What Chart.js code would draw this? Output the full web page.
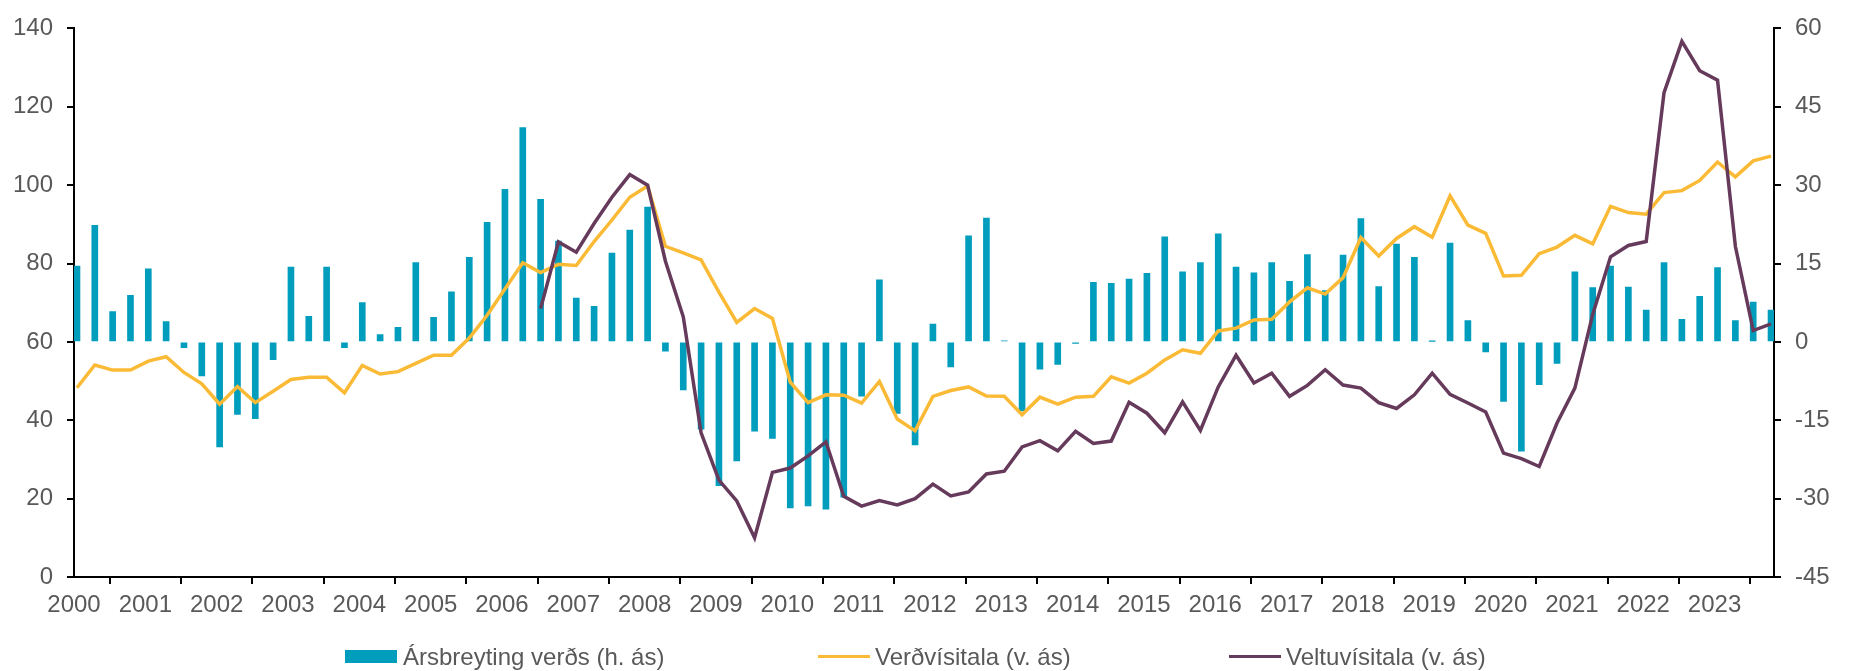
<!DOCTYPE html>
<html>
<head>
<meta charset="utf-8">
<script src="https://cdn.jsdelivr.net/npm/chart.js@4.4.1/dist/chart.umd.min.js"></script>
<style>
  html, body { margin: 0; padding: 0; background: #fff; }
  #wrap { position: relative; width: 1855px; height: 671px; }
  #legend { position: absolute; left: 0; top: 643px; width: 1855px; height: 27px;
            font-family: "Liberation Sans", Arial, sans-serif; font-size: 24px; color: #595959; }
  .item { position: absolute; top: 0; height: 27px; display: flex; align-items: center; white-space: nowrap; }
  .swatch { display: inline-block; width: 52px; margin-right: 6px; }
</style>
</head>
<body>
<div id="wrap">
  <canvas id="chart" width="1855" height="671"></canvas>
  <div id="legend"></div>
</div>
<script>
// quarterly data 2000Q1 - 2023Q4
const years = ['2000', '2001', '2002', '2003', '2004', '2005', '2006', '2007', '2008', '2009', '2010', '2011',
               '2012', '2013', '2014', '2015', '2016', '2017', '2018', '2019', '2020', '2021', '2022', '2023'];

// Ársbreyting verðs (%, right axis)
const arsbreyting = [
  14.5, 22.3, 5.8, 8.9,      14.0, 3.9, -1.1, -6.5,     -20.1, -13.9, -14.7, -3.4,  14.3, 4.9, 14.3, -1.1,
  7.5, 1.4, 2.8, 15.2,       4.7, 9.6, 16.2, 22.9,      29.2, 41.0, 27.3, 19.3,     8.4, 6.8, 17.0, 21.4,
  25.8, -1.8, -9.2, -16.7,   -27.5, -22.8, -17.1, -18.5, -31.8, -31.4, -32.0, -29.7, -10.4, 11.9, -13.7, -19.7,
  3.4, -4.8, 20.3, 23.7,     0.2, -13.2, -5.2, -4.3,    -0.3, 11.4, 11.2, 12.0,     13.1, 20.1, 13.4, 15.2,
  20.7, 14.3, 13.2, 15.2,    11.6, 16.7, 9.8, 16.6,     23.6, 10.6, 18.7, 16.2,     0.1, 18.9, 4.1, -1.9,
  -11.4, -20.9, -8.2, -4.1,  13.4, 10.4, 14.5, 10.5,    6.1, 15.2, 4.3, 8.7,        14.2, 4.1, 7.6, 6.1
];

// Verðvísitala (left axis)
const verdvisitala = [
  48.3, 54.1, 52.8, 52.8,    55.1, 56.2, 52.2, 49.3,    44.1, 48.6, 44.5, 47.4,    50.4, 51.0, 51.0, 47.0,
  54.0, 51.8, 52.4, 54.5,    56.6, 56.6, 61.0, 66.8,    73.5, 80.2, 77.7, 79.8,    79.5, 85.6, 91.1, 96.9,
  99.8, 84.4, 82.7, 80.9,    72.7, 65.0, 68.5, 66.0,    49.7, 44.5, 46.5, 46.4,    44.4, 49.9, 40.3, 37.3,
  46.1, 47.6, 48.5, 46.2,    46.1, 41.4, 45.9, 44.1,    45.9, 46.1, 51.1, 49.5,    52.0, 55.4, 58.0, 57.1,
  62.8, 63.5, 65.6, 65.8,    70.2, 73.8, 72.2, 76.4,    86.6, 81.9, 86.4, 89.4,    86.7, 97.3, 89.8, 87.7,
  76.8, 77.0, 82.5, 84.2,    87.2, 85.0, 94.6, 93.0,    92.6, 98.1, 98.6, 101.2,   105.9, 102.1, 106.2, 107.4
];

// Veltuvísitala (left axis), starts 2006Q3
const veltuvisitala = [
  null, null, null, null,    null, null, null, null,    null, null, null, null,    null, null, null, null,
  null, null, null, null,    null, null, null, null,    null, null, 68.5, 85.5,    82.9, 90.2, 96.9, 102.7,
  100.0, 80.6, 66.4, 36.8,   24.7, 19.4, 10.0, 26.7,    27.8, 30.9, 34.5, 20.6,    18.1, 19.5, 18.4, 20.0,
  23.7, 20.7, 21.7, 26.3,    27.0, 33.2, 34.8, 32.2,    37.2, 34.1, 34.7, 44.6,    41.8, 36.8, 44.7, 37.4,
  48.5, 56.6, 49.5, 52.0,    46.1, 48.9, 52.9, 49.0,    48.2, 44.5, 43.0, 46.5,    52.0, 46.6, 44.4, 42.1,
  31.6, 30.2, 28.2, 39.3,    48.2, 67.0, 81.7, 84.6,    85.6, 123.6, 136.7, 129.2, 126.8, 84.4, 62.9, 64.6
];

const labels = ['Ársbreyting verðs (h. ás)', 'Verðvísitala (v. ás)', 'Veltuvísitala (v. ás)'];
const colors = ['#009dbd', '#fbba35', '#653a5b'];

// x axis in months from Jan 2000; each quarter sits in the middle of its first month
const qx = i => i * 3 + 0.5;
const toPoints = arr => arr.map((v, i) => ({ x: qx(i), y: v }));

const font = { family: '"Liberation Sans", Arial, sans-serif', size: 24 };
const tickColor = '#595959';
const axisGrid = { drawOnChartArea: false, drawTicks: true, tickLength: 7, color: '#000', lineWidth: 2 };
const axisBorder = { color: '#000', width: 2 };

const chart = new Chart(document.getElementById('chart'), {
  data: {
    datasets: [
      {
        type: 'line', label: labels[2], data: toPoints(veltuvisitala), yAxisID: 'y',
        borderColor: colors[2], borderWidth: 3.5, pointRadius: 0, tension: 0, order: 1
      },
      {
        type: 'line', label: labels[1], data: toPoints(verdvisitala), yAxisID: 'y',
        borderColor: colors[1], borderWidth: 3.5, pointRadius: 0, tension: 0, order: 2
      },
      {
        type: 'bar', label: labels[0], data: toPoints(arsbreyting), yAxisID: 'y2',
        backgroundColor: colors[0], barThickness: 6, order: 3
      }
    ]
  },
  options: {
    responsive: false,
    animation: false,
    devicePixelRatio: 1,
    layout: { padding: { top: 18, bottom: 50, left: 0, right: 0 } },
    plugins: { legend: { display: false }, tooltip: { enabled: false } },
    scales: {
      x: {
        type: 'linear', min: 0, max: 286, offset: false,
        afterBuildTicks: scale => { scale.ticks = years.map((y, i) => ({ value: i * 12 })); },
        ticks: {
          callback: v => years[Math.round(v / 12)],
          font: font, color: tickColor, padding: 7, maxRotation: 0, autoSkip: false
        },
        grid: axisGrid, border: axisBorder,
        afterFit: scale => { scale.height = 44; }
      },
      y: {
        position: 'left', min: 0, max: 140,
        ticks: { stepSize: 20, font: font, color: tickColor, padding: 14 },
        grid: axisGrid, border: axisBorder,
        afterFit: scale => { scale.width = 74; }
      },
      y2: {
        position: 'right', min: -45, max: 60,
        ticks: { stepSize: 15, font: font, color: tickColor, padding: 14 },
        grid: axisGrid, border: axisBorder,
        afterFit: scale => { scale.width = 81; }
      }
    }
  }
});

// legend below the chart, spaced like the original
const legendLeft = [345, 818, 1229];
const legend = document.getElementById('legend');
labels.forEach((text, i) => {
  const item = document.createElement('div');
  item.className = 'item';
  item.style.left = legendLeft[i] + 'px';
  const sw = document.createElement('span');
  sw.className = 'swatch';
  sw.style.background = colors[i];
  sw.style.height = i === 0 ? '13px' : '3.5px';
  if (i > 0) sw.style.marginRight = '5px';
  item.appendChild(sw);
  const t = document.createElement('span');
  t.textContent = text;
  item.appendChild(t);
  legend.appendChild(item);
});
</script>
</body>
</html>
